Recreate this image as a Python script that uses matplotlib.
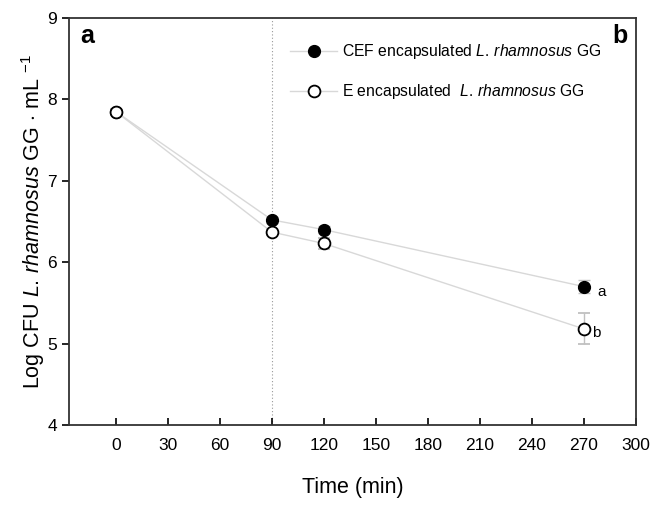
import matplotlib.pyplot as plt
from matplotlib.lines import Line2D

plt.rcParams['font.family'] = ['Liberation Sans', 'DejaVu Sans']
plt.rcParams['mathtext.fontset'] = 'custom'
plt.rcParams['mathtext.rm'] = 'Liberation Sans'
plt.rcParams['mathtext.it'] = 'Liberation Sans:italic'

# Data
time_min = [0, 90, 120, 270]
cef_log = [7.85, 6.52, 6.40, 5.70]
cef_err = [0.03, 0.04, 0.04, 0.08]
e_log = [7.85, 6.37, 6.23, 5.18]
e_err = [0.03, 0.04, 0.07, 0.19]
letters_270 = ["a", "b"]
species = '$\\mathit{L}$$\\mathit{.}$$\\,$$\\mathit{rhamnosus}$'
labels = ['CEF encapsulated ' + species + ' GG',
          'E encapsulated  ' + species + ' GG']

fig = plt.figure(figsize=(6.59, 5.05), dpi=100)
ax = fig.add_axes([69 / 659, 1 - 425 / 505, 567 / 659, 407 / 505])

line_c = '#d8d8d8'
ax.axvline(90, color='#999999', linestyle=(0, (1, 2)), linewidth=0.8, zorder=0)

ax.errorbar(time_min, cef_log, yerr=cef_err, color=line_c, ecolor='#c0c0c0',
            capsize=4, linewidth=1, marker='o', markersize=8.5,
            markerfacecolor='black', markeredgecolor='black')
ax.errorbar(time_min, e_log, yerr=e_err, color=line_c, ecolor='#c0c0c0',
            capsize=4, linewidth=1, marker='o', markersize=8.5,
            markerfacecolor='white', markeredgecolor='black', markeredgewidth=1.3)

# significance letters at the last time point
ax.annotate(letters_270[0], (time_min[-1], cef_log[-1]), xytext=(10, -7),
            textcoords='offset points', fontsize=11)
ax.annotate(letters_270[1], (time_min[-1], e_log[-1]), xytext=(6, -6),
            textcoords='offset points', fontsize=11)

ax.set_xlim(-27, 300)
ax.set_ylim(4, 9)
ax.set_xticks(range(0, 301, 30))
ax.set_yticks(range(4, 10))
ax.tick_params(axis='x', direction='in', length=5, width=1.2, labelsize=12.5, pad=9)
ax.tick_params(axis='y', direction='out', length=5, width=1.2, labelsize=12.5)
for sp in ax.spines.values():
    sp.set_linewidth(1.3)
    sp.set_color('#333333')

ax.set_xlabel('Time (min)', fontsize=15.5, labelpad=18)
ax.set_ylabel('Log CFU ' + species + ' GG $\\cdot$ mL $^{-1}$', fontsize=15.5, labelpad=0)

ax.text(0.02, 0.955, 'a', transform=ax.transAxes, fontsize=18, fontweight='bold', va='center')
ax.text(0.985, 0.955, 'b', transform=ax.transAxes, fontsize=18, fontweight='bold',
        va='center', ha='right')

handles = [
    Line2D([], [], color=line_c, linewidth=1, marker='o', markersize=8.5,
           markerfacecolor='black', markeredgecolor='black'),
    Line2D([], [], color=line_c, linewidth=1, marker='o', markersize=8.5,
           markerfacecolor='white', markeredgecolor='black', markeredgewidth=1.3),
]
ax.legend(handles, labels, loc='upper left', bbox_to_anchor=(0.365, 0.975), frameon=False,
          fontsize=11.3, handlelength=3, labelspacing=1.35, handletextpad=0.3)

fig.savefig('out.png', dpi=100)
